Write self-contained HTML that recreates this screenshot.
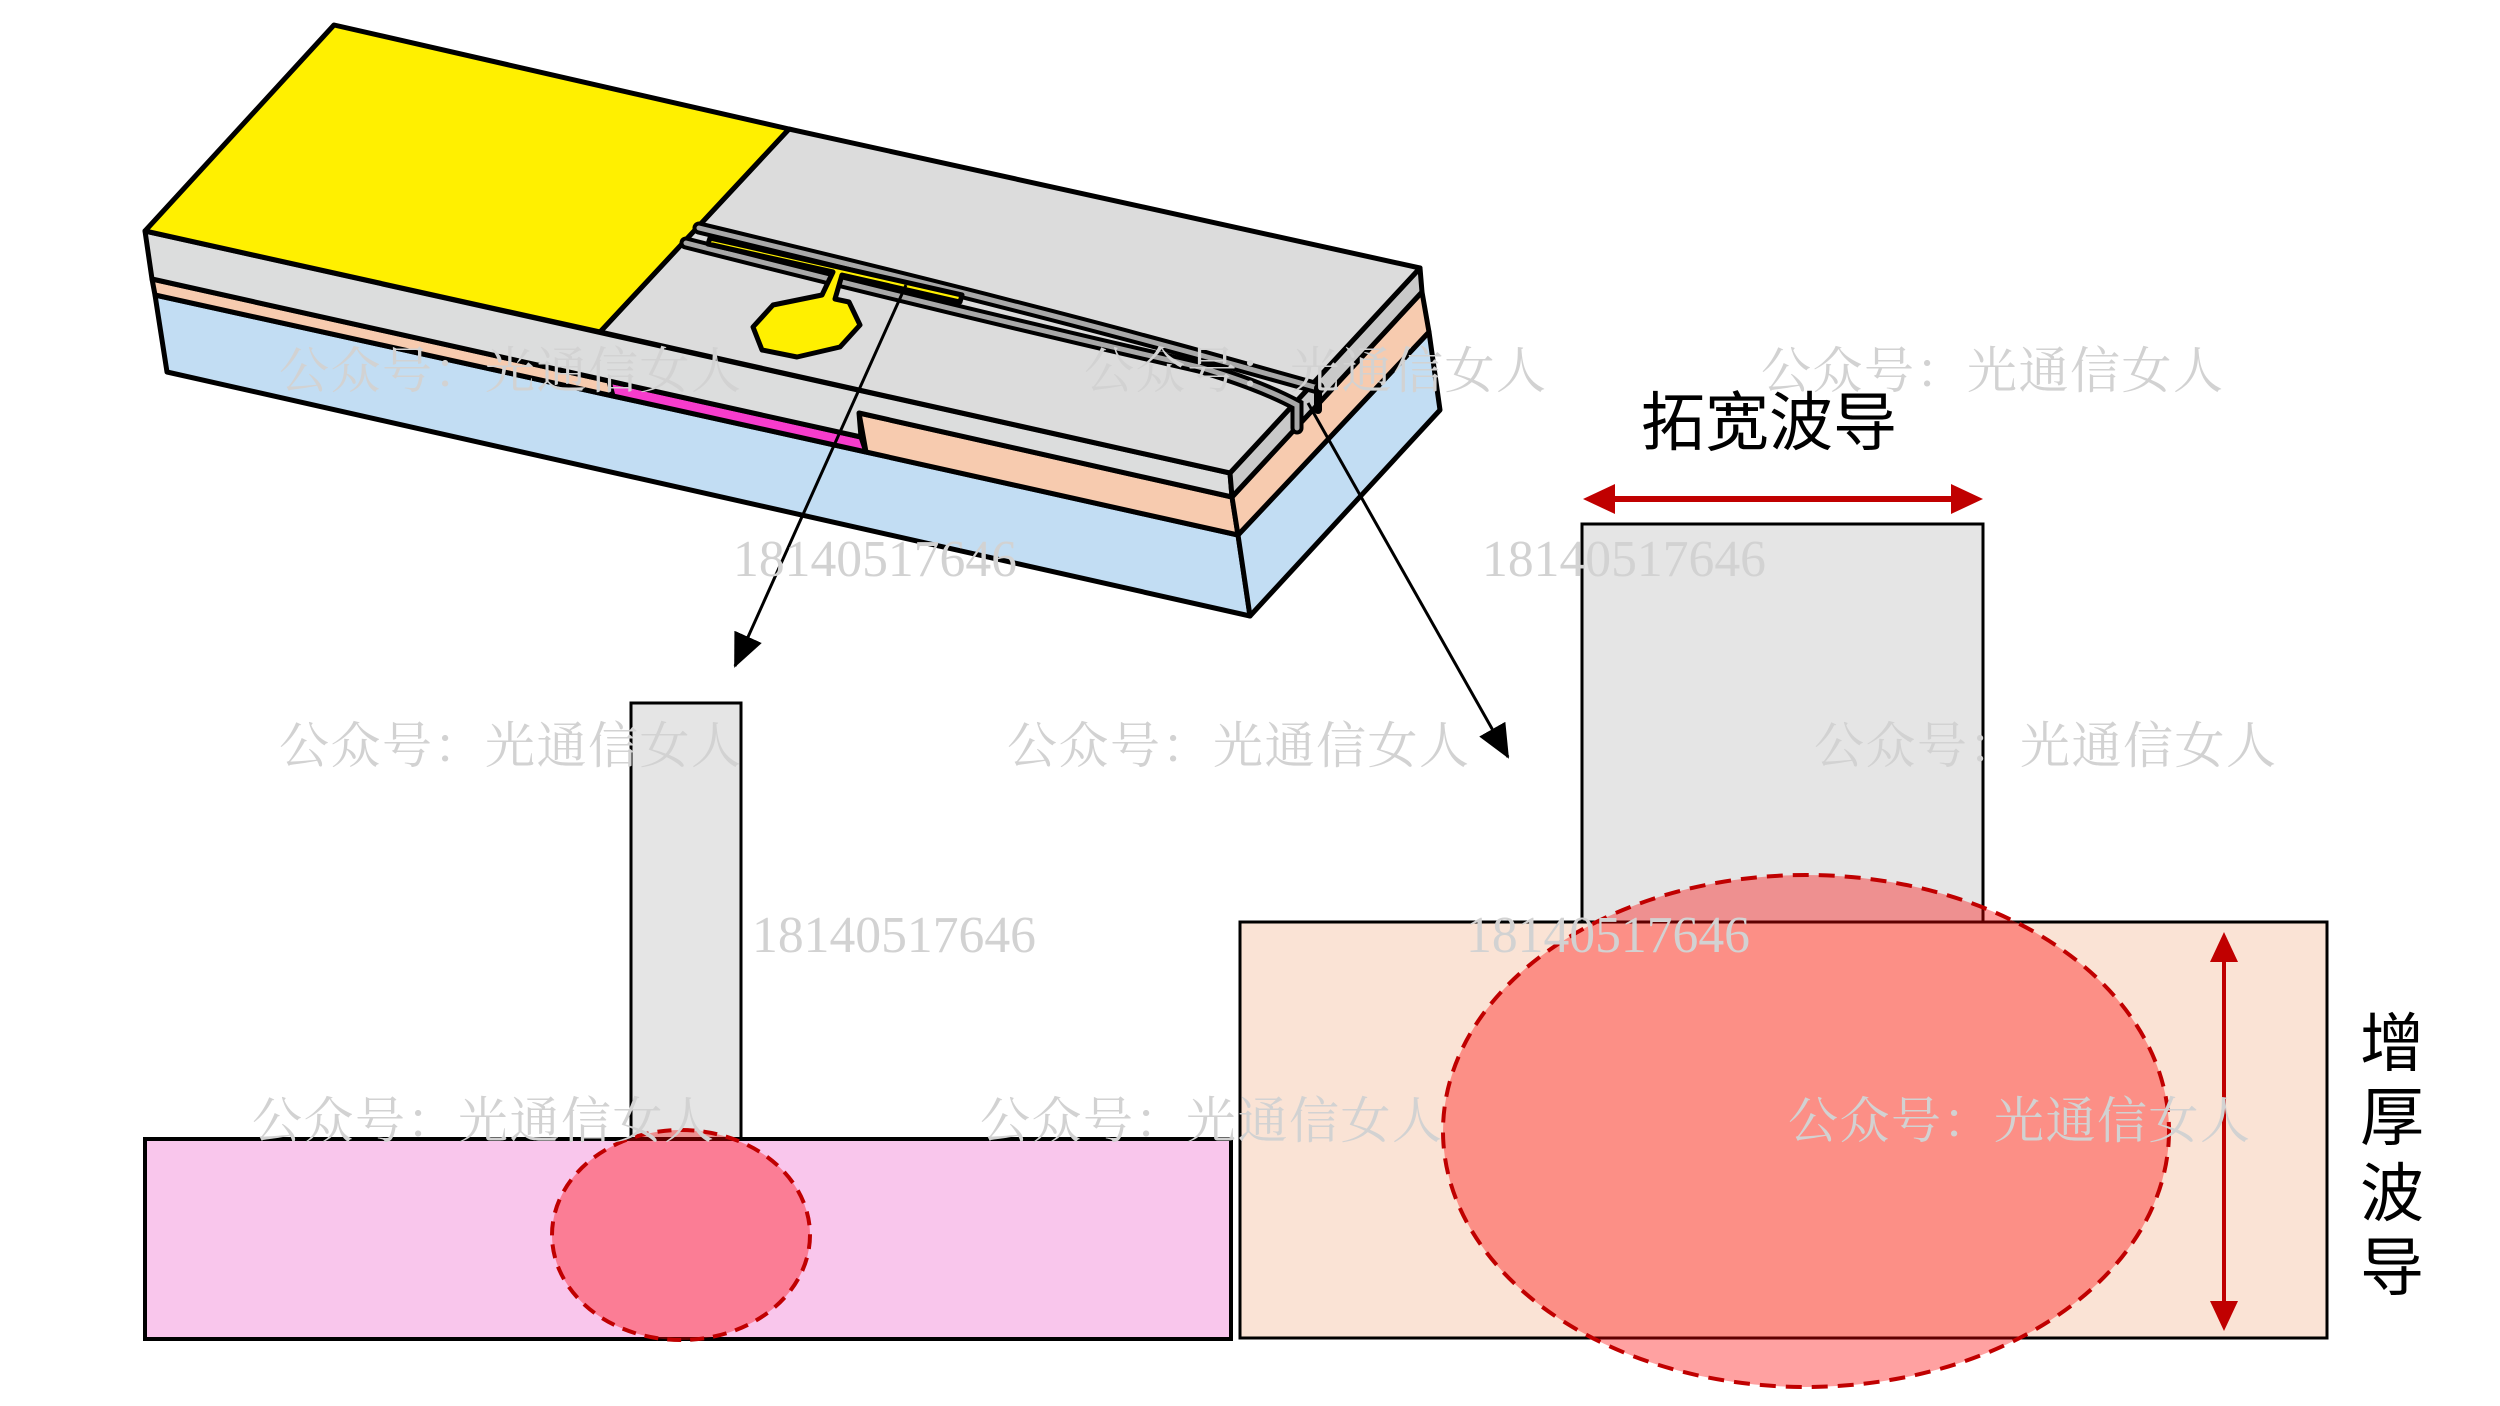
<!DOCTYPE html>
<html><head><meta charset="utf-8"><style>
html,body{margin:0;padding:0;background:#fff;}
svg{display:block;}
.wm{font-family:"Liberation Serif","Noto Serif CJK SC",serif;font-size:50px;fill:#d2d2d2;}
.num{font-family:"Liberation Serif",serif;font-size:52px;fill:#d2d2d2;}
.lbl{font-family:"Liberation Sans","Noto Sans CJK SC",sans-serif;font-size:64px;fill:#000;}
</style></head><body>
<svg width="2500" height="1406" viewBox="0 0 2500 1406" xmlns="http://www.w3.org/2000/svg">
<defs>
<marker id="ab" markerWidth="34" markerHeight="30" refX="32" refY="15" orient="auto" markerUnits="userSpaceOnUse" viewBox="0 0 34 30"><path d="M0,0 L34,15 L0,30 z" fill="#000"/></marker>
</defs>
<g stroke="#000" stroke-width="5" stroke-linejoin="round">
<polygon points="155,295 613,396 866,452 1238,535 1250,616 167,372" fill="#c2ddf3"/>
<polygon points="152,279 609,381 613,396 155,295" fill="#f7cbaf"/>
<polygon points="609,381 861,437 866,452 613,396" fill="#f73ccc"/>
<polygon points="859,413 1232,497 1238,535 866,452" fill="#f7cbaf"/>
<polygon points="145,231 1230,473 1232,497 859,413 861,437 609,381 152,279" fill="#dcdddd"/>
<polygon points="1238,535 1429,332 1440,410 1250,616" fill="#c2ddf3"/>
<polygon points="1232,497 1422,292 1429,332 1238,535" fill="#f7cbaf"/>
<polygon points="1230,473 1420,268 1422,292 1232,497" fill="#c9c9c9"/>
<polygon points="789,129 1420,268 1230,473 600,332" fill="#dcdcdc"/>
<polygon points="334,25 789,129 600,332 145,231" fill="#fff000"/>
</g>
<g fill="none" stroke-linecap="round">
<path d="M699,228 Q1000,300 1200,355 L1318,388" stroke="#000" stroke-width="13"/>
<path d="M699,228 Q1000,300 1200,355 L1318,388" stroke="#a8a8a8" stroke-width="5"/>
<path d="M686,243 Q950,310 1199,367 Q1260,385 1297,405 L1297,428" stroke="#000" stroke-width="13"/>
<path d="M686,243 Q950,310 1199,367 Q1260,385 1297,405 L1297,428" stroke="#a8a8a8" stroke-width="5"/>
<path d="M1318,388 L1318,410" stroke="#000" stroke-width="8"/>
</g>
<g stroke="#000" stroke-width="5" stroke-linejoin="round" fill="#fff000">
<polygon points="710,238 962,295 960,302 842,275 835,299 849,302 860,325 840,347 797,357 762,350 753,327 773,305 822,295 833,272 708,244"/>
</g>
<g stroke="#000" stroke-width="3">
<line x1="906" y1="285" x2="735" y2="666" marker-end="url(#ab)"/>
<line x1="1308" y1="403" x2="1508" y2="757" marker-end="url(#ab)"/>
</g>
<rect x="631" y="703" width="110" height="437" fill="#e5e5e5" stroke="#000" stroke-width="3"/>
<rect x="145" y="1139" width="1086" height="200" fill="#f9c6ec" stroke="#000" stroke-width="4"/>
<ellipse cx="681" cy="1235" rx="129" ry="105" fill="rgba(255,0,0,0.37)" stroke="#c00000" stroke-width="4" stroke-dasharray="14,9"/>
<rect x="1582" y="524" width="401" height="398" fill="#e5e5e5" stroke="#000" stroke-width="3"/>
<rect x="1240" y="922" width="1087" height="416" fill="#fae3d5" stroke="#000" stroke-width="3"/>
<ellipse cx="1806" cy="1131" rx="363" ry="256" fill="rgba(255,0,0,0.37)" stroke="#c00000" stroke-width="4" stroke-dasharray="16,10"/>
<g fill="#c00000">
<rect x="1610" y="496" width="345" height="6"/>
<polygon points="1583,499 1615,484 1615,514"/>
<polygon points="1983,499 1951,484 1951,514"/>
<rect x="2222" y="960" width="4" height="345"/>
<polygon points="2224,932 2210,962 2238,962"/>
<polygon points="2224,1331 2210,1301 2238,1301"/>
</g>
<text class="lbl" x="1769" y="445" text-anchor="middle">拓宽波导</text>
<g class="lbl" text-anchor="middle">
<text x="2392" y="1066">增</text><text x="2392" y="1140">厚</text><text x="2392" y="1216">波</text><text x="2392" y="1290">导</text>
</g>
<g class="wm">
<text x="279" y="388" textLength="462">公众号：光通信女人</text>
<text x="1084" y="388" textLength="462">公众号：光通信女人</text>
<text x="1761" y="388" textLength="462">公众号：光通信女人</text>
<text x="279" y="763" textLength="462">公众号：光通信女人</text>
<text x="1007" y="763" textLength="462">公众号：光通信女人</text>
<text x="1814" y="763" textLength="462">公众号：光通信女人</text>
<text x="252" y="1138" textLength="462">公众号：光通信女人</text>
<text x="980" y="1138" textLength="462">公众号：光通信女人</text>
<text x="1788" y="1138" textLength="462">公众号：光通信女人</text>
</g>
<g class="num">
<text x="733" y="576" textLength="284" lengthAdjust="spacingAndGlyphs">18140517646</text>
<text x="1482" y="576" textLength="284" lengthAdjust="spacingAndGlyphs">18140517646</text>
<text x="752" y="952" textLength="284" lengthAdjust="spacingAndGlyphs">18140517646</text>
<text x="1466" y="952" textLength="284" lengthAdjust="spacingAndGlyphs">18140517646</text>
</g>
</svg>
</body></html>
